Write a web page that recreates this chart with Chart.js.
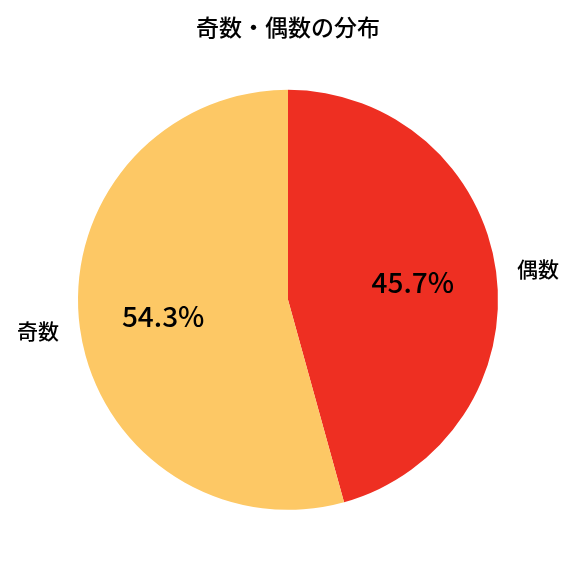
<!DOCTYPE html>
<html>
<head>
<meta charset="utf-8">
<script src="https://cdn.jsdelivr.net/npm/chart.js@4"></script>
<style>
  body { margin: 0; background: #fff; }
  #wrap { width: 576px; height: 576px; }
</style>
</head>
<body>
<div id="wrap"><canvas id="pieChart" width="576" height="576"></canvas></div>
<script>
// --- datos del gráfico ---
const categorias = ['偶数', '奇数'];
const porcentajes = [45.7, 54.3];
const colores = ['#EE2F22', '#FDC865'];

const FONT = '"Noto Sans CJK JP", "Noto Sans", sans-serif';

// etiquetas fuera y porcentajes dentro (como matplotlib)
const etiquetasPlugin = {
    id: 'etiquetas',
    afterDatasetsDraw(chart) {
        const ctx = chart.ctx;
        const meta = chart.getDatasetMeta(0);
        ctx.save();
        meta.data.forEach((arc, i) => {
            const p = arc.getProps(['x', 'y', 'startAngle', 'endAngle', 'outerRadius'], true);
            const mid = (p.startAngle + p.endAngle) / 2;
            const c = Math.cos(mid), s = Math.sin(mid);
            // porcentaje
            ctx.fillStyle = '#000';
            ctx.font = '500 28px ' + FONT;
            ctx.textAlign = 'center';
            ctx.textBaseline = 'middle';
            ctx.fillText(porcentajes[i].toFixed(1) + '%', p.x + c * p.outerRadius * 0.6, p.y + s * p.outerRadius * 0.6);
            // etiqueta
            ctx.font = '500 21px ' + FONT;
            ctx.textAlign = c >= 0 ? 'left' : 'right';
            ctx.fillText(categorias[i], p.x + c * p.outerRadius * 1.1, p.y + s * p.outerRadius * 1.1);
        });
        ctx.restore();
    }
};

const ctxPie = document.getElementById('pieChart').getContext('2d');
new Chart(ctxPie, {
    type: 'pie',
    data: {
        labels: categorias,
        datasets: [{
            data: porcentajes,
            backgroundColor: colores,
            borderWidth: 0
        }]
    },
    options: {
        responsive: false,
        animation: false,
        layout: { padding: { top: 0, bottom: 66, left: 78, right: 78 } },
        plugins: {
            legend: { display: false },
            tooltip: { enabled: false },
            title: {
                display: true,
                text: '奇数・偶数の分布',
                color: '#000',
                font: { family: FONT, size: 23, weight: '500' },
                padding: { top: 13, bottom: 49 }
            }
        }
    },
    plugins: [etiquetasPlugin]
});
</script>
</body>
</html>
